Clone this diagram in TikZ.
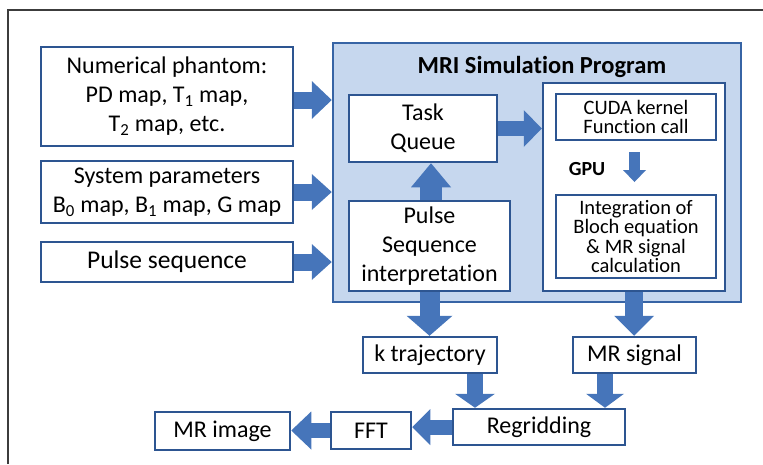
\documentclass[tikz,border=0pt]{standalone}
\usepackage{fontspec}
\setmainfont{Carlito}[Ligatures=NoCommon]
\usetikzlibrary{arrows.meta}
\definecolor{boxline}{RGB}{45,85,145}
\definecolor{arrowc}{RGB}{70,117,186}
\definecolor{progfill}{RGB}{198,215,238}
\definecolor{progline}{RGB}{55,100,165}
\definecolor{framec}{RGB}{60,60,60}
\begin{document}
\begin{tikzpicture}[x=1pt,y=-1pt,
  box/.style={draw=boxline, line width=2.5pt, fill=white, align=center, inner sep=0pt,
    font=\fontsize{24}{29}\selectfont},
  sbox/.style={box, font=\fontsize{20.5}{19.5}\selectfont},
  fat/.style n args={3}{draw=arrowc, line width=#1pt,
    -{Triangle[width=#2pt,length=#3pt,line width=0pt,fill=arrowc]}}
]
\useasboundingbox (0,0) rectangle (763,464);
\draw[framec, line width=1.3pt] (8,464) -- (8,10) -- (763,10);

% program box
\node[draw=progline, fill=progfill, line width=2.5pt, minimum width=408pt, minimum height=259pt, inner sep=0pt] (prog) at (537,172.5) {};
\node[font=\fontsize{24.5}{28}\selectfont\bfseries] (title) at (542,67) {MRI Simulation Program};

% input boxes
\node[box, minimum width=252pt, minimum height=99pt] (phantom) at (167,96.5)
  {Numerical phantom:\\ PD map, T\textsubscript{1} map,\\ T\textsubscript{2} map, etc.};
\node[box, minimum width=252pt, minimum height=62pt] (sys) at (167,192)
  {System parameters\\ B\textsubscript{0} map, B\textsubscript{1} map, G map};
\node[box, minimum width=252pt, minimum height=40pt, font=\fontsize{25.5}{30}\selectfont] (pseq) at (167,262) {Pulse sequence};

% inside program
\node[box, minimum width=148pt, minimum height=67pt] (task) at (423,128.5) {Task\\ Queue};
\node[box, minimum width=161pt, minimum height=90pt] (pint) at (429.5,246) {Pulse\\ Sequence\\ interpretation};
\node[box, minimum width=182pt, minimum height=208pt] (gpu) at (634,187) {};
\node[sbox, minimum width=160pt, minimum height=46pt] (cuda) at (636,117) {CUDA kernel\\ Function call};
\node[sbox, minimum width=160pt, minimum height=83pt] (integ) at (636,236.5)
  {Integration of\\ Bloch equation\\ \& MR signal\\ calculation};
\node[font=\fontsize{20}{24}\selectfont\bfseries] (gpulabel) at (587,169) {GPU};

% outputs
\node[box, minimum width=134pt, minimum height=36pt] (ktraj) at (430,355) {k trajectory};
\node[box, minimum width=123pt, minimum height=36pt] (msig) at (634.5,355) {MR signal};
\node[box, minimum width=172pt, minimum height=36pt] (regrid) at (539,427) {Regridding};
\node[box, minimum width=80pt, minimum height=37pt] (fft) at (371,430.5) {FFT};
\node[box, minimum width=135pt, minimum height=38pt] (mrimg) at (222.5,431) {MR image};

% arrows
\draw[fat={17}{38}{20}] ([yshift=-3.5pt]phantom.east) -- ([yshift=-3.5pt]phantom.east -| prog.west);
\draw[fat={17}{36}{20}] (sys.east) -- (sys.east -| prog.west);
\draw[fat={17}{36}{20}] (pseq.east) -- (pseq.east -| prog.west);
\draw[fat={15}{37}{18}] (task.east) -- (task.east -| gpu.west);
\draw[fat={22}{40}{24}] ([xshift=1.5pt]pint.north) -- ([xshift=1.5pt]pint.north |- task.south);
\coordinate (g1) at (634.5,152);
\coordinate (g2) at (634.5,182);
\draw[fat={11}{23}{12}] (g1) -- (g2);
\draw[fat={20}{46}{20}] (pint.south) -- (pint.south |- ktraj.north);
\draw[fat={18}{40}{20}] (gpu.south) -- (gpu.south |- msig.north);
\draw[fat={16}{40}{14}] ([xshift=45pt]ktraj.south) -- ([xshift=45pt]ktraj.south |- regrid.north);
\draw[fat={16}{38}{14}] ([xshift=-29.5pt]msig.south) -- ([xshift=-29.5pt]msig.south |- regrid.north);
\draw[fat={15}{36}{18}] (regrid.west) -- (regrid.west -| fft.east);
\draw[fat={15}{38}{20}] (fft.west) -- (fft.west -| mrimg.east);
\end{tikzpicture}
\end{document}
